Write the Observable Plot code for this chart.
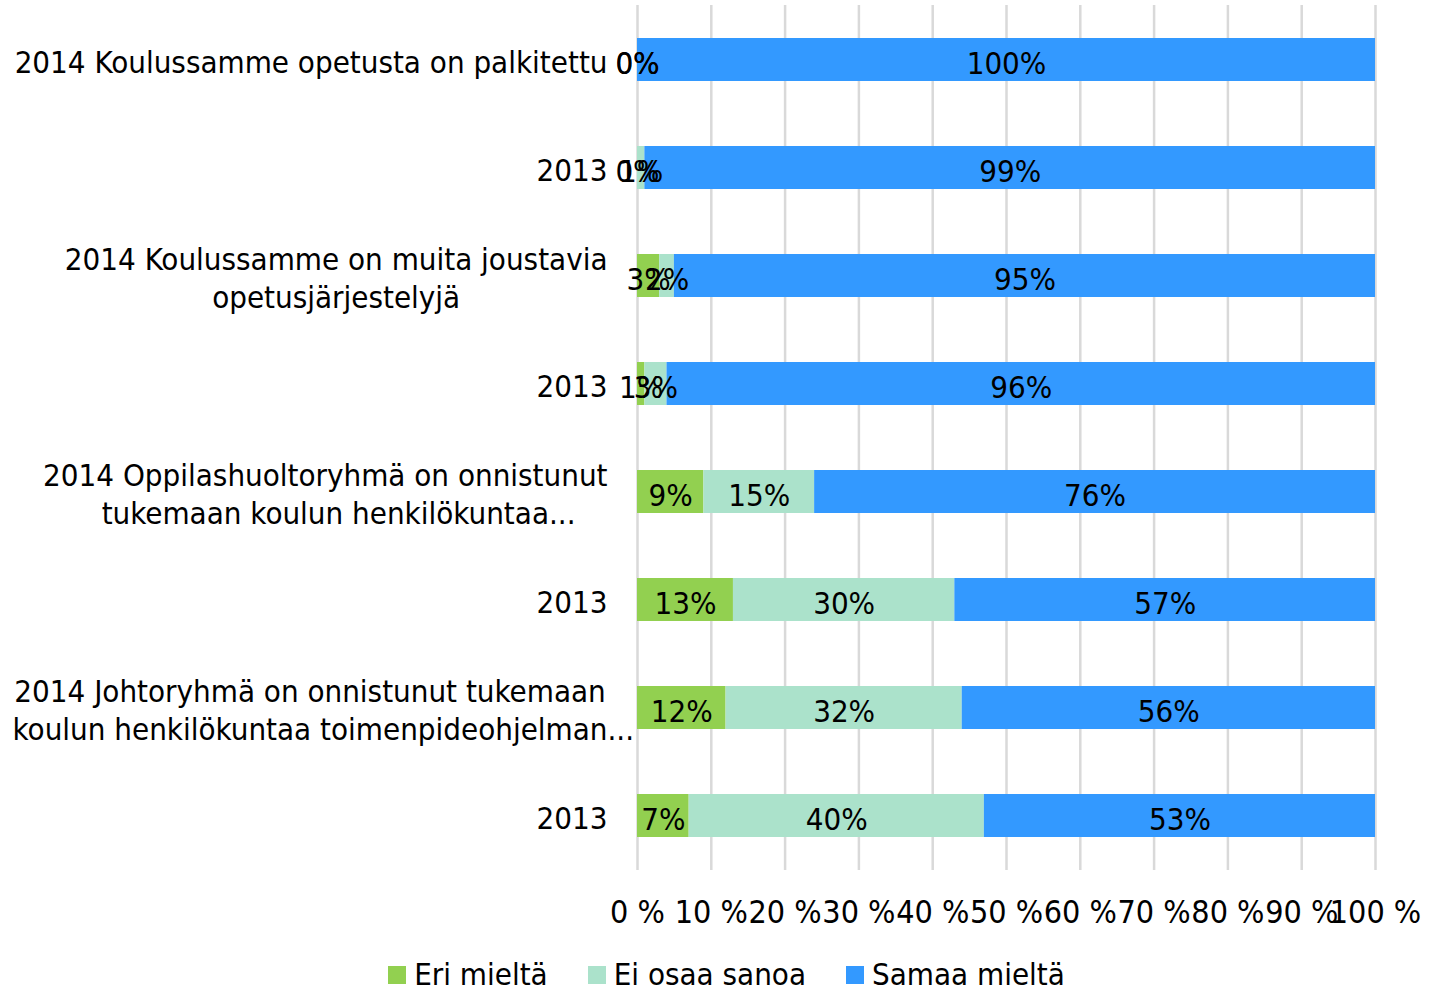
<!DOCTYPE html>
<html>
<head>
<meta charset="utf-8">
<script src="https://cdn.jsdelivr.net/npm/d3@7"></script>
<script src="https://cdn.jsdelivr.net/npm/@observablehq/plot@0.6"></script>
<style>
  body { margin: 0; background: #fff; font-family: "DejaVu Sans Condensed", "DejaVu Sans", sans-serif; font-stretch: condensed; }
  #chart { position: relative; width: 1429px; }
  .legend { display: flex; justify-content: center; gap: 40px; margin-top: 16px; padding-left: 24px; font-size: 31px; color: #000; line-height: 1.2; }
  .legend span.item { display: flex; align-items: center; gap: 8px; }
  .legend span.sw { width: 18px; height: 18px; display: inline-block; }
</style>
</head>
<body>
<div id="chart"></div>
<script>
const rowLabels = [
  "2014 Koulussamme opetusta on palkitettu",
  "2013",
  "2014 Koulussamme on muita joustavia\nopetusjärjestelyjä",
  "2013",
  "2014 Oppilashuoltoryhmä on onnistunut\ntukemaan koulun henkilökuntaa...",
  "2013",
  "2014 Johtoryhmä on onnistunut tukemaan\nkoulun henkilökuntaa toimenpideohjelman...",
  "2013"
];
const seriesNames = ["Eri mieltä", "Ei osaa sanoa", "Samaa mieltä"];
const seriesColors = ["#92d050", "#abe2cb", "#3399ff"];
const eriMielta = [0, 0, 3, 1, 9, 13, 12, 7];
const eiOsaaSanoa = [0, 1, 2, 3, 15, 30, 32, 40];
const samaaMielta = [100, 99, 95, 96, 76, 57, 56, 53];
const xTicks = [0, 10, 20, 30, 40, 50, 60, 70, 80, 90, 100];

const seriesValues = [eriMielta, eiOsaaSanoa, samaaMielta];
const data = [];
rowLabels.forEach((lab, i) => {
  let start = 0;
  seriesValues.forEach((vals, s) => {
    const v = vals[i];
    data.push({row: i, series: seriesNames[s], x1: start, x2: start + v, mid: start + v / 2, value: v});
    start += v;
  });
});

const FONT = '"DejaVu Sans Condensed", "DejaVu Sans", sans-serif';
const FS = 31;
const LH = 38;
const canvas = document.createElement("canvas");
const ctx = canvas.getContext("2d");
ctx.font = `${FS}px ${FONT}`;
const gap = 30;

const labelMarks = [];
rowLabels.forEach((lab, i) => {
  const lines = lab.split("\n");
  const core = lines.map(l => l.endsWith("...") ? l.slice(0, -3) : l);
  const W = Math.max(...core.map(l => ctx.measureText(l).width));
  lines.forEach((line, j) => {
    const cw = ctx.measureText(core[j]).width;
    const lw = ctx.measureText(line).width;
    const center = -(gap + W / 2);
    const lineCenter = center - cw / 2 + lw / 2;
    labelMarks.push(Plot.text([i], {
      y: d => d,
      frameAnchor: "left",
      textAnchor: "middle",
      dx: lineCenter,
      dy: (j - (lines.length - 1) / 2) * LH + 3,
      text: () => line,
      fontSize: FS,
      fill: "#000"
    }));
  });
});

const plot = Plot.plot({
  width: 1429,
  height: 940,
  marginLeft: 637,
  marginRight: 54,
  marginTop: 5,
  marginBottom: 70,
  style: {fontFamily: FONT, background: "#fff"},
  x: {domain: [0, 100], ticks: xTicks, tickFormat: d => `${d} %`},
  y: {domain: d3.range(rowLabels.length), paddingInner: 0.6, paddingOuter: 0.3, axis: null},
  color: {domain: seriesNames, range: seriesColors},
  marks: [
    Plot.ruleX(xTicks, {stroke: "#d9d9d9", strokeWidth: 2.5}),
    Plot.barX(data, {y: "row", x1: "x1", x2: "x2", fill: "series"}),
    Plot.text(data, {y: "row", x: "mid", text: d => `${d.value}%`, fontSize: FS, fill: "#000", dy: 4}),
    Plot.axisX({ticks: xTicks, tickFormat: d => `${d} %`, tickSize: 0, tickPadding: 30, fontSize: 32, fill: "#000"}),
    ...labelMarks
  ]
});
plot.querySelectorAll("text").forEach(t => t.setAttribute("fill", "#000"));
document.getElementById("chart").appendChild(plot);

const legend = document.createElement("div");
legend.className = "legend";
seriesNames.forEach((n, i) => {
  const it = document.createElement("span");
  it.className = "item";
  const sw = document.createElement("span");
  sw.className = "sw";
  sw.style.background = seriesColors[i];
  it.appendChild(sw);
  it.appendChild(document.createTextNode(n));
  legend.appendChild(it);
});
document.getElementById("chart").appendChild(legend);
</script>
</body>
</html>
